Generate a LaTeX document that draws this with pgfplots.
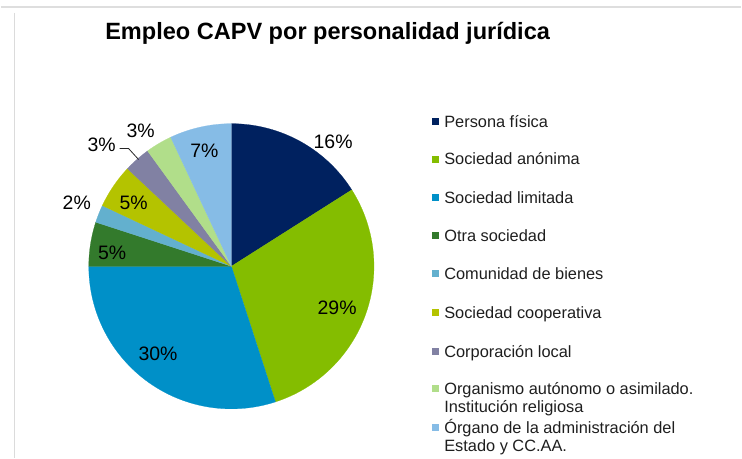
\documentclass[border=0pt]{standalone}
\usepackage{pgfplots}
\pgfplotsset{compat=1.18}
\usepackage{pgfplotstable}
\usepackage{fontspec}
\setmainfont{Liberation Sans}
\definecolor{cPF}{HTML}{00215F}
\definecolor{cSA}{HTML}{84BD00}
\definecolor{cSL}{HTML}{0090C8}
\definecolor{cOS}{HTML}{337A2C}
\definecolor{cCB}{HTML}{63B0CE}
\definecolor{cCO}{HTML}{B4C300}
\definecolor{cCL}{HTML}{8181A3}
\definecolor{cOA}{HTML}{B1DE8A}
\definecolor{cOE}{HTML}{86BCE6}
\definecolor{txt}{HTML}{1E1E1E}
\pgfplotstableread[col sep=comma]{
name,value,col
Persona física,16,cPF
Sociedad anónima,29,cSA
Sociedad limitada,30,cSL
Otra sociedad,5,cOS
Comunidad de bienes,2,cCB
Sociedad cooperativa,5,cCO
Corporación local,3,cCL
Organismo autónomo o asimilado. Institución religiosa,3,cOA
Órgano de la administración del Estado y CC.AA.,7,cOE
}\piedata
\def\pcx{231}
\def\pcy{267}
\def\pR{143}
\begin{document}
\begin{tikzpicture}
\begin{axis}[width=742pt,height=459pt,scale only axis,
  xmin=0,xmax=742,ymin=0,ymax=459,y dir=reverse,
  hide axis,clip=false]
\path (rel axis cs:0,0) (rel axis cs:1,1);
% frame lines
\draw[color=black!13,line width=2pt] (axis cs:0,7) -- (axis cs:742,7);
\draw[color=black!14,line width=1pt] (axis cs:13.5,13) -- (axis cs:13.5,459);
% pie wedges from the table
\pgfplotstablegetrowsof{\piedata}
\pgfmathtruncatemacro\nrows{\pgfplotsretval-1}
\gdef\cumval{0}
\pgfplotsforeachungrouped \i in {0,...,\nrows}{%
  \pgfplotstablegetelem{\i}{value}\of\piedata \let\sliceval\pgfplotsretval
  \pgfplotstablegetelem{\i}{col}\of\piedata \let\slicecol\pgfplotsretval
  \pgfmathsetmacro\slicestart{\cumval}%
  \pgfmathsetmacro\sliceend{\cumval+\sliceval}%
  \edef\tmp{\noexpand\addplot[fill=\slicecol, draw=\slicecol, line width=0.2pt, domain=\slicestart:\sliceend, samples=60]
    ({\pcx+\pR*cos(90-3.6*x)},{\pcy-\pR*sin(90-3.6*x)}) -- (axis cs:\pcx,\pcy) -- cycle;}%
  \tmp
  \xdef\cumval{\sliceend}%
}
% title
\node[anchor=base,font=\fontsize{23.6}{27}\selectfont\bfseries,text=black] at (axis cs:327.5,39.5) {Empleo CAPV por personalidad jurídica};
% data labels
\tikzset{lab/.style={anchor=base,font=\fontsize{19.5}{21}\selectfont,text=black,inner sep=0pt}}
\node[lab] at (axis cs:333,149) {16\%};
\node[lab] at (axis cs:337,315.5) {29\%};
\node[lab] at (axis cs:157.5,361.5) {30\%};
\node[lab] at (axis cs:111.5,260.5) {5\%};
\node[lab] at (axis cs:76,210.5) {2\%};
\node[lab] at (axis cs:133,210) {5\%};
\node[lab] at (axis cs:101,151.5) {3\%};
\node[lab] at (axis cs:140,138) {3\%};
\node[lab] at (axis cs:204,158) {7\%};
\draw[line width=0.8pt,color=black!85] (axis cs:119,149) -- (axis cs:128,149) -- (axis cs:138,160);
% legend
\tikzset{leg/.style={anchor=base west,font=\fontsize{16.4}{18}\selectfont,text=txt,inner sep=0pt}}
\newcommand\legsq[2]{\fill[#1] (axis cs:432.5,#2-3.5) rectangle (axis cs:439.5,#2+3.5);}
\legsq{cPF}{121.7}\node[leg] at (axis cs:444.3,127.5) {Persona física};
\legsq{cSA}{159.5}\node[leg] at (axis cs:444.3,165.3) {Sociedad anónima};
\legsq{cSL}{198}\node[leg] at (axis cs:444.3,203.8) {Sociedad limitada};
\legsq{cOS}{236.3}\node[leg] at (axis cs:444.3,242.1) {Otra sociedad};
\legsq{cCB}{274.7}\node[leg] at (axis cs:444.3,280.5) {Comunidad de bienes};
\legsq{cCO}{313.3}\node[leg] at (axis cs:444.3,319.1) {Sociedad cooperativa};
\legsq{cCL}{352.3}\node[leg] at (axis cs:444.3,358.1) {Corporación local};
\legsq{cOA}{390}\node[leg] at (axis cs:444.3,395.8) {Organismo autónomo o asimilado.};
\node[leg] at (axis cs:444.3,413.8) {Institución religiosa};
\legsq{cOE}{428.5}\node[leg] at (axis cs:444.3,434.3) {Órgano de la administración del};
\node[leg] at (axis cs:444.3,452.3) {Estado y CC.AA.};
\end{axis}
\end{tikzpicture}
\end{document}
